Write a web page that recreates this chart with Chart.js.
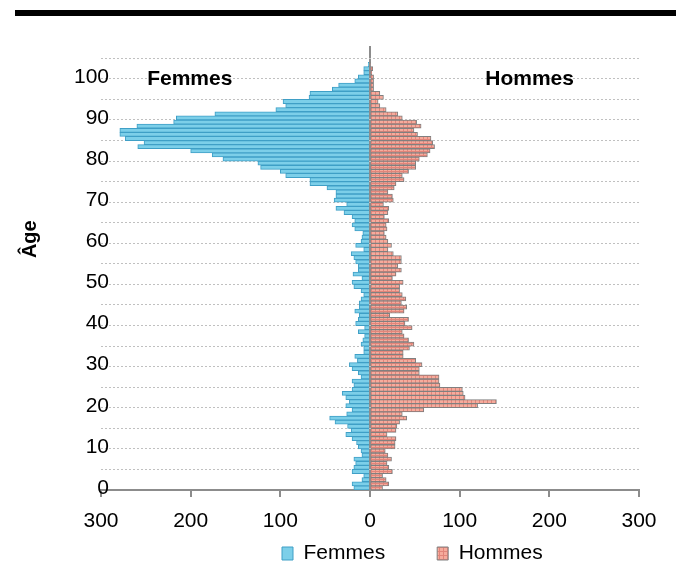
<!DOCTYPE html>
<html lang="fr">
<head>
<meta charset="utf-8">
<title>Pyramide des âges</title>
<script src="https://cdn.jsdelivr.net/npm/chart.js@4.4.1/dist/chart.umd.min.js"></script>
<style>
    html, body { margin: 0; padding: 0; background: #fff; }
    #wrap { width: 676px; height: 572px; }
</style>
</head>
<body>
<div id="wrap"><canvas id="pyramide" width="676" height="572"></canvas></div>
<script>
// Ages (one bar per year of age)
const ages = [
    0, 1, 2, 3, 4, 5, 6, 7, 8, 9,
    10, 11, 12, 13, 14, 15, 16, 17, 18, 19,
    20, 21, 22, 23, 24, 25, 26, 27, 28, 29,
    30, 31, 32, 33, 34, 35, 36, 37, 38, 39,
    40, 41, 42, 43, 44, 45, 46, 47, 48, 49,
    50, 51, 52, 53, 54, 55, 56, 57, 58, 59,
    60, 61, 62, 63, 64, 65, 66, 67, 68, 69,
    70, 71, 72, 73, 74, 75, 76, 77, 78, 79,
    80, 81, 82, 83, 84, 85, 86, 87, 88, 89,
    90, 91, 92, 93, 94, 95, 96, 97, 98, 99,
    100, 101, 102, 103
];

// Femmes, by age (drawn to the left)
const femmes = [
    18, 20, 9, 7, 20, 18, 16, 18, 9, 10,
    13, 15, 20, 27, 21, 25, 39, 45, 26, 20,
    27, 23, 27, 31, 20, 18, 20, 10, 13, 20,
    23, 14, 17, 7, 7, 10, 8, 6, 13, 6,
    16, 13, 12, 17, 12, 12, 10, 7, 10, 18,
    20, 9, 19, 13, 13, 16, 18, 21, 7, 16,
    10, 9, 8, 17, 20, 17, 20, 29, 38, 26,
    40, 38, 38, 48, 67, 67, 94, 100, 122, 125,
    164, 176, 200, 259, 252, 273, 279, 279, 260, 219,
    216, 173, 105, 94, 97, 68, 67, 42, 35, 17,
    13, 7, 7, 2
];

// Hommes, by age (drawn to the right)
const hommes = [
    14, 21, 18, 14, 25, 21, 19, 24, 20, 17,
    28, 28, 29, 19, 29, 30, 33, 41, 36, 60,
    120, 141, 106, 104, 103, 78, 77, 77, 55, 55,
    58, 51, 37, 37, 44, 49, 43, 38, 36, 47,
    39, 43, 22, 38, 41, 35, 40, 36, 33, 33,
    37, 25, 29, 35, 31, 35, 35, 26, 20, 24,
    20, 18, 16, 19, 18, 21, 16, 20, 21, 15,
    26, 25, 20, 27, 29, 38, 36, 43, 51, 51,
    55, 64, 67, 72, 70, 68, 53, 49, 57, 52,
    36, 31, 18, 11, 9, 15, 11, 4, 4, 4,
    4, 2, 3, 1
];

// Axis ticks (y gridlines every 5 years, labels every 10)
const xTicks = [-300, -200, -100, 0, 100, 200, 300];
const yTicks = [0, 5, 10, 15, 20, 25, 30, 35, 40, 45, 50, 55, 60, 65, 70, 75, 80, 85, 90, 95, 100, 105];
const seriesNames = ['Femmes', 'Hommes'];
const ageTitle = 'Âge';

Chart.defaults.font.family = '"Liberation Sans", Arial, sans-serif';
Chart.defaults.color = '#000';

// small grid pattern for the Hommes bars
function makeGridPattern() {
    const c = document.createElement('canvas');
    c.width = 4;
    c.height = 4;
    const g = c.getContext('2d');
    g.fillStyle = '#f6ab9c';
    g.fillRect(0, 0, 4, 4);
    g.fillStyle = '#e2857a';
    g.fillRect(3, 0, 1, 4);
    g.fillRect(0, 3, 4, 1);
    return g.createPattern(c, 'repeat');
}

// Extra drawing: top rule, in-chart labels, rotated axis title, legend placement
const decorPlugin = {
    id: 'decor',
    afterLayout(chart) {
        const lg = chart.legend;
        const pad = lg.options.labels.padding;
        lg.left = 282 - pad;
        lg.top = 543 - pad;
    },
    beforeDraw(chart) {
        const c = chart.ctx;
        c.save();
        c.fillStyle = '#000';
        c.fillRect(15, 10, 661, 6);
        c.restore();
    },
    afterDraw(chart) {
        const c = chart.ctx;
        const xs = chart.scales.x;
        const ys = chart.scales.y;
        c.save();
        c.fillStyle = '#000';
        c.font = 'bold 21px "Liberation Sans", Arial, sans-serif';
        c.textAlign = 'center';
        c.textBaseline = 'middle';
        c.fillText(seriesNames[0], xs.getPixelForValue(-201), ys.getPixelForValue(100));
        c.fillText(seriesNames[1], xs.getPixelForValue(178), ys.getPixelForValue(100));

        c.translate(30, ys.getPixelForValue(61));
        c.rotate(-Math.PI / 2);
        c.font = 'bold 20px "Liberation Sans", Arial, sans-serif';
        c.fillText(ageTitle, 0, 0);
        c.restore();
    }
};

const ctx = document.getElementById('pyramide');

const chart = new Chart(ctx, {
    type: 'bar',
    data: {
        datasets: [
            {
                label: seriesNames[0],
                data: ages.map((a, i) => ({ x: -femmes[i], y: a + 0.5 })),
                backgroundColor: '#7ccfe9',
                borderColor: '#3f9fc6',
                borderWidth: 1,
                barPercentage: 1,
                categoryPercentage: 1
            },
            {
                label: seriesNames[1],
                data: ages.map((a, i) => ({ x: hommes[i], y: a + 0.5 })),
                backgroundColor: makeGridPattern(),
                borderColor: '#808080',
                borderWidth: 1,
                barPercentage: 1,
                categoryPercentage: 1
            }
        ]
    },
    options: {
        indexAxis: 'y',
        responsive: false,
        animation: false,
        layout: {
            padding: { top: 46, right: 37, bottom: 0, left: 0 }
        },
        plugins: {
            tooltip: { enabled: false },
            legend: {
                position: 'bottom',
                align: 'start',
                maxHeight: 41,
                labels: {
                    boxWidth: 11,
                    boxHeight: 13,
                    padding: 52,
                    font: { size: 21 },
                    color: '#000'
                }
            }
        },
        scales: {
            x: {
                type: 'linear',
                min: xTicks[0],
                max: xTicks[xTicks.length - 1],
                bounds: 'data',
                stacked: true,
                z: 1,
                afterFit: function (scale) {
                    scale.height = 41;
                },
                afterBuildTicks: function (scale) {
                    scale.ticks = xTicks.map(v => ({ value: v }));
                },
                ticks: {
                    maxRotation: 0,
                    padding: 12,
                    font: { size: 21 },
                    color: '#000',
                    callback: function (value) {
                        return Math.abs(value);
                    }
                },
                grid: {
                    lineWidth: 2,
                    tickLength: 7,
                    tickColor: '#8c8c8c',
                    color: function (context) {
                        return context.tick && context.tick.value === 0 ? '#8c8c8c' : 'rgba(0,0,0,0)';
                    }
                },
                border: {
                    color: '#8c8c8c',
                    width: 2
                }
            },
            y: {
                type: 'linear',
                min: 0,
                max: 108,
                bounds: 'data',
                offset: false,
                stacked: true,
                afterFit: function (scale) {
                    scale.width = 101;
                },
                afterBuildTicks: function (scale) {
                    scale.ticks = yTicks.map(v => ({ value: v }));
                },
                ticks: {
                    autoSkip: false,
                    mirror: true,
                    crossAlign: 'far',
                    padding: -27,
                    labelOffset: -2,
                    font: { size: 21 },
                    color: '#000',
                    callback: function (value) {
                        return value % 10 === 0 ? value : '';
                    }
                },
                grid: {
                    offset: false,
                    drawTicks: false,
                    lineWidth: 1,
                    color: function (context) {
                        return context.tick && context.tick.value > 0 ? '#c0c0c0' : 'rgba(0,0,0,0)';
                    }
                },
                border: {
                    display: false,
                    dash: [2, 2]
                }
            }
        }
    },
    plugins: [decorPlugin]
});
</script>
</body>
</html>
